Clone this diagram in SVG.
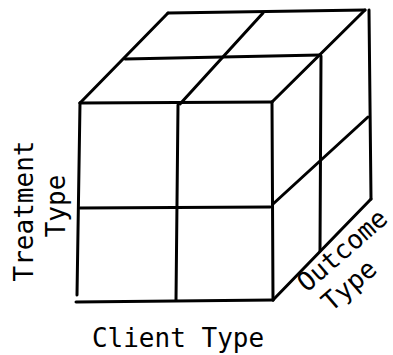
<svg xmlns="http://www.w3.org/2000/svg" width="393" height="355" viewBox="0 0 393 355">
<style>
.e{fill:none;stroke:#000;stroke-width:3;stroke-linecap:round;stroke-linejoin:round}
.t{font-family:"DejaVu Sans Mono","Liberation Mono",monospace;font-size:26px;fill:#000}
</style>
<rect width="393" height="355" fill="#fff"/>
<g id="front-face" class="e">
<path d="M80,103 L272,102"/>
<path d="M80,103 L77,295"/>
<path d="M76,302 L273,300"/>
<path d="M272,102 L273,300"/>
<path d="M178,105 L176,300"/>
<path d="M80,208 L270,207"/>
</g>
<g id="top-face" class="e">
<path d="M168,13 L365,10"/>
<path d="M80,103 L168,13"/>
<path d="M272,102 L365,10"/>
<path d="M125,59 L320,55"/>
<path d="M180,104 L263,13"/>
</g>
<g id="right-face" class="e">
<path d="M369,10 L371,199"/>
<path d="M273,300 L371,199"/>
<path d="M321,56 L320,251"/>
<path d="M273,204 L368,117"/>
</g>
<g id="labels">
<text class="t" text-anchor="middle" x="178" y="347">Client Type</text>
<text class="t" text-anchor="middle" transform="translate(33,211) rotate(-90)">Treatment</text>
<text class="t" text-anchor="middle" transform="translate(65,206) rotate(-90)">Type</text>
<text class="t" text-anchor="middle" transform="translate(348,257) rotate(-41)">Outcome</text>
<text class="t" text-anchor="middle" transform="translate(355,292) rotate(-41)">Type</text>
</g>
</svg>
